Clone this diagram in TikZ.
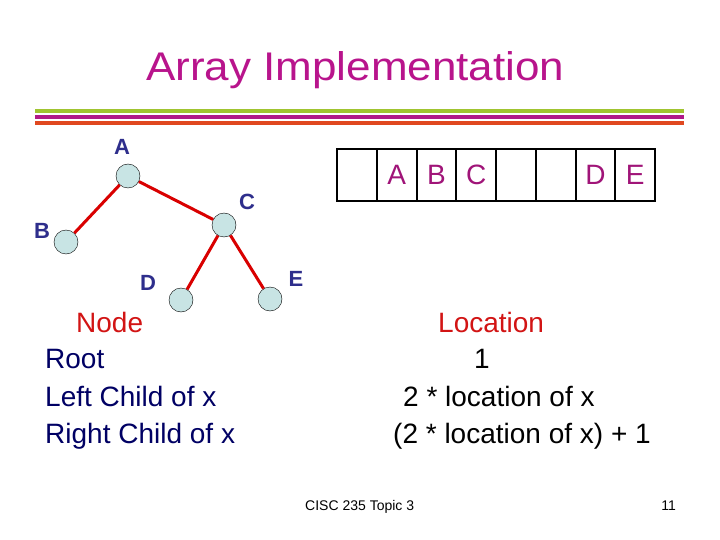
\documentclass[tikz,border=0pt]{standalone}
\usepackage{fontspec}
\setmainfont{Liberation Sans}
\usetikzlibrary{positioning}

\definecolor{titlepink}{RGB}{184,20,140}
\definecolor{cellpink}{RGB}{160,20,120}
\definecolor{labelblue}{RGB}{46,46,140}
\definecolor{navytext}{RGB}{0,0,100}
\definecolor{headred}{RGB}{210,20,20}
\definecolor{nodefill}{RGB}{200,228,228}
\definecolor{stripegreen}{RGB}{160,196,48}
\definecolor{stripepink}{RGB}{176,24,136}
\definecolor{stripeorange}{RGB}{224,72,32}

\begin{document}
\begin{tikzpicture}[x=1pt,y=-1pt,
  treenode/.style={circle,draw=black,thin,fill=nodefill,minimum size=24pt,inner sep=0pt},
  treelabel/.style={font=\fontsize{22}{26}\selectfont\bfseries,text=labelblue,anchor=base,inner sep=0pt},
  treeedge/.style={red!85!black,line width=3pt},
  cellbox/.style={draw=black,line width=2pt,minimum width=39.75pt,minimum height=52pt,inner sep=0pt,outer sep=0pt,
    anchor=north west,font=\fontsize{28}{32}\selectfont,text=cellpink},
  bodytext/.style={font=\fontsize{28}{34}\selectfont,anchor=base west,inner sep=0pt}]
\useasboundingbox[fill=white] (0,0) rectangle (720,540);

% title and stripes
\node[font=\fontsize{40}{46}\selectfont,text=titlepink,anchor=base west,inner sep=0pt,xscale=1.1] (title) at (146,81) {Array Implementation};
\draw[stripegreen,line width=4pt] (35,111) -- (684,111);
\draw[stripepink,line width=4pt] (35,117) -- (684,117);
\draw[stripeorange,line width=4pt] (35,123) -- (684,123);

% tree
\node[treenode] (nA) at (128,176) {};
\node[treenode] (nB) at (66,242) {};
\node[treenode] (nC) at (224,225) {};
\node[treenode] (nD) at (181,300) {};
\node[treenode] (nE) at (270,299) {};
\draw[treeedge] (nA) -- (nB);
\draw[treeedge] (nA) -- (nC);
\draw[treeedge] (nC) -- (nD);
\draw[treeedge] (nC) -- (nE);
\node[treelabel] (lA) at (122,155) {A};
\node[treelabel] (lB) at (42,239) {B};
\node[treelabel] (lC) at (247,210) {C};
\node[treelabel] (lD) at (148,290) {D};
\node[treelabel] (lE) at (296,286) {E};

% array
\node[cellbox] (c0) at (337,149) {};
\node[cellbox,right=0pt of c0] (c1) {A};
\node[cellbox,right=0pt of c1] (c2) {B};
\node[cellbox,right=0pt of c2] (c3) {C};
\node[cellbox,right=0pt of c3] (c4) {};
\node[cellbox,right=0pt of c4] (c5) {};
\node[cellbox,right=0pt of c5] (c6) {D};
\node[cellbox,right=0pt of c6] (c7) {E};

% node column
\node[bodytext,text=headred] (hNode) at (76,332) {Node};
\node[bodytext,text=navytext] (tRoot) at (45,368) {Root};
\node[bodytext,text=navytext] (tLeft) at (45,406) {Left Child of x};
\node[bodytext,text=navytext] (tRight) at (45,443) {Right Child of x};

% location column
\node[bodytext,text=headred] (hLoc) at (438,332) {Location};
\node[bodytext] (tOne) at (474,368) {1};
\node[bodytext] (tTwo) at (403,406) {2 * location of x};
\node[bodytext] (tThree) at (393,443) {(2 * location of x) + 1};

% footer
\node[font=\fontsize{14}{16}\selectfont,anchor=base west,inner sep=0pt] (foot) at (305,510) {CISC 235 Topic 3};
\node[font=\fontsize{14}{16}\selectfont,anchor=base east,inner sep=0pt] (page) at (676,510) {11};
\end{tikzpicture}
\end{document}
